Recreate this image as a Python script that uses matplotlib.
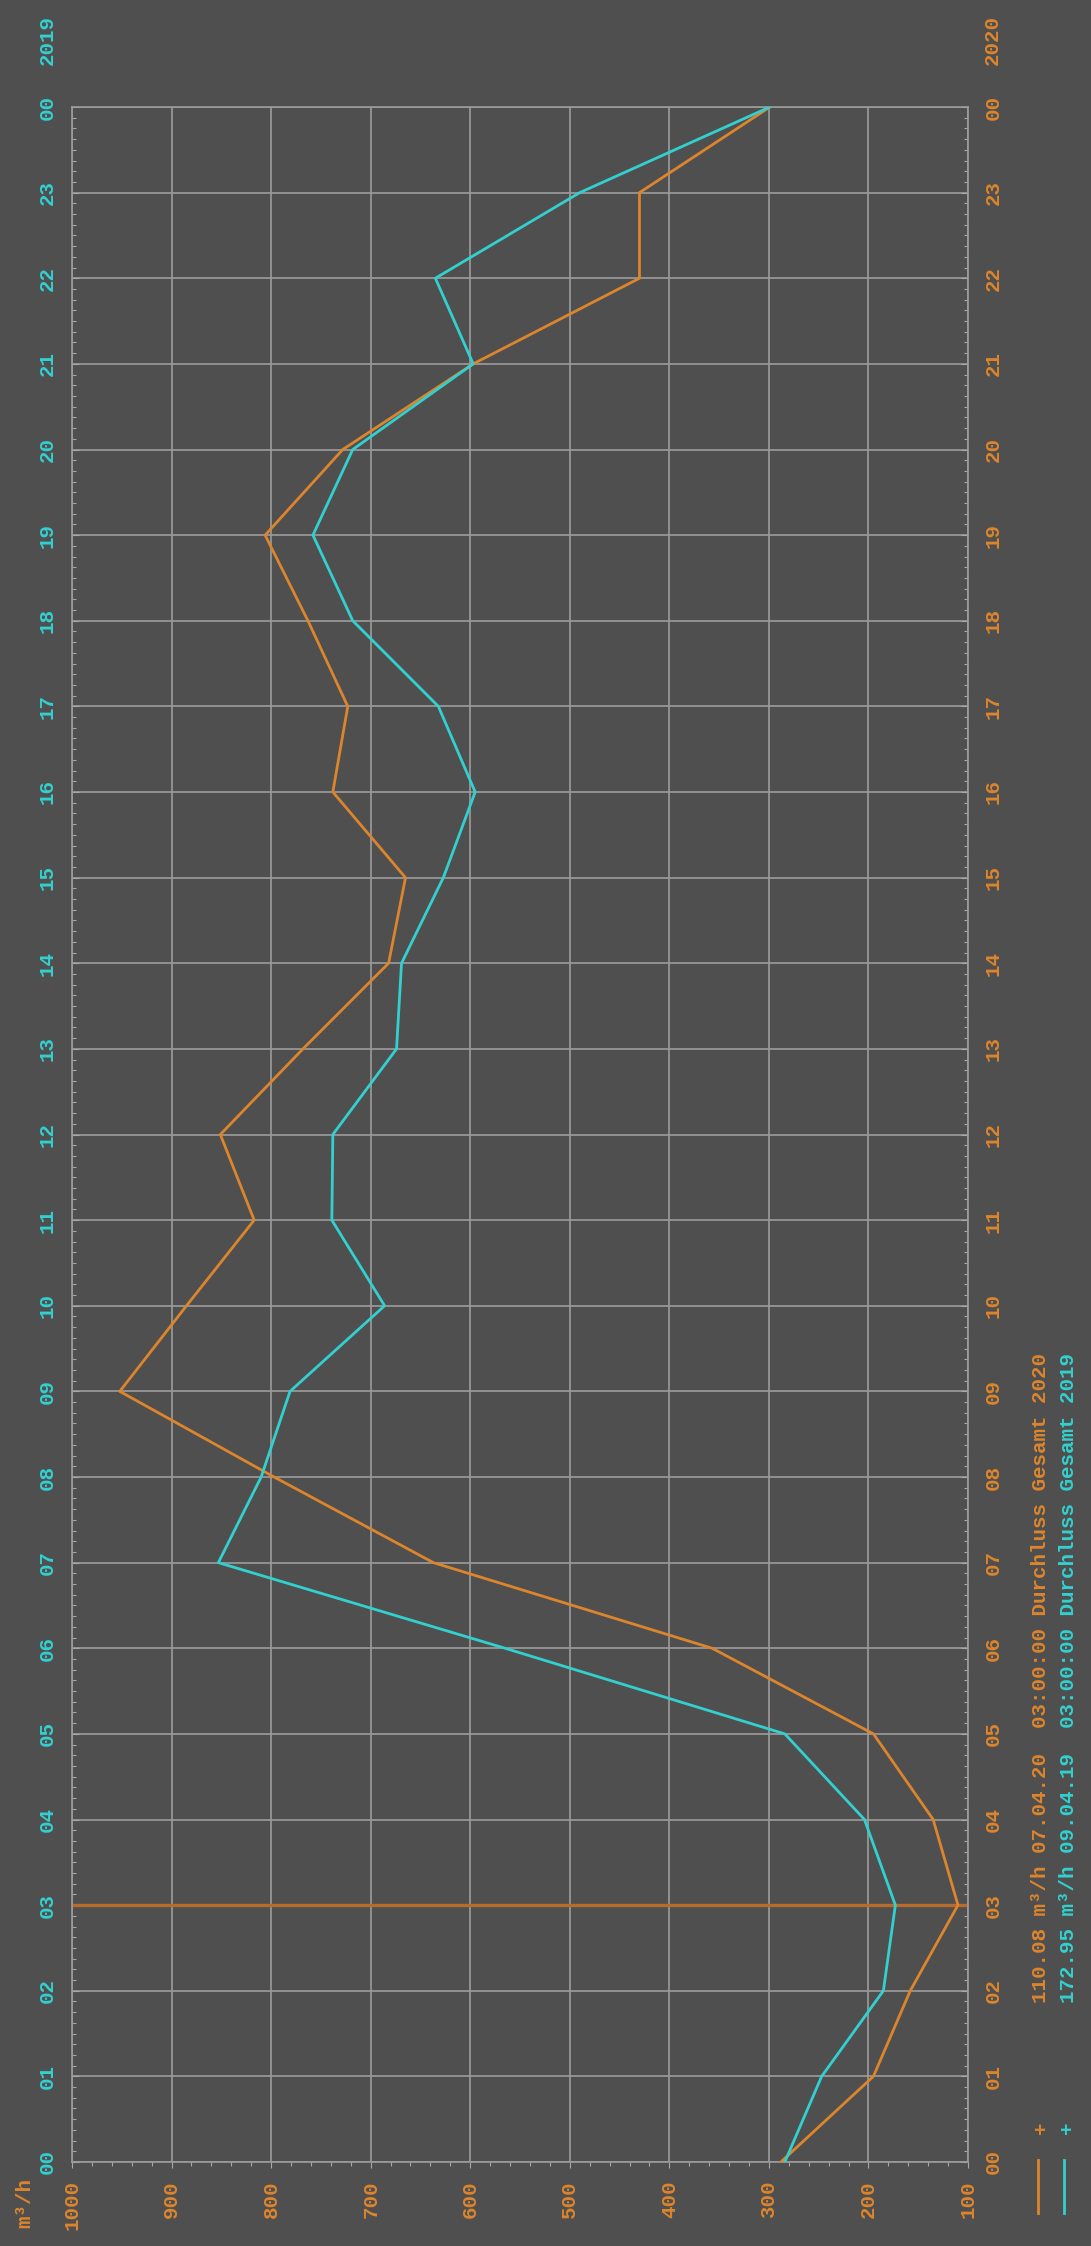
import matplotlib
matplotlib.use("Agg")
import matplotlib.pyplot as plt
from matplotlib.ticker import MultipleLocator, FixedLocator
from matplotlib.lines import Line2D

# data (hour of day -> flow in m3/h)
hours = list(range(25))
hour_labels = ["%02d" % (h % 24) for h in hours]
flow_2019 = [284, 247, 185, 172.95, 204, 284, 565, 853, 810, 781, 686, 739, 738,
             674, 669, 627, 595, 632, 718, 758, 718, 597, 635, 490, 299]
flow_2020 = [288, 195, 158, 110.08, 135, 195, 357, 637, 797, 952, 885, 817, 851,
             768, 682, 665, 738, 723, 763, 806, 728, 597, 430, 430, 299]
flow_ticks = list(range(1000, 0, -100))
cursor_hour = 3
legend_2020 = "110.08 m³/h 07.04.20  03:00:00 Durchluss Gesamt 2020"
legend_2019 = "172.95 m³/h 09.04.19  03:00:00 Durchluss Gesamt 2019"

bg = "#4f4f4f"
orange = "#dc852d"
cyan = "#33d0d0"
gridc = "#9c9c9c"

plt.rcParams["font.family"] = ["Liberation Mono", "DejaVu Sans Mono"]
plt.rcParams["font.weight"] = "bold"
plt.rcParams["font.size"] = 15

W, H = 1091, 2246
fig = plt.figure(figsize=(W / 100, H / 100), dpi=100, facecolor=bg)
ax = fig.add_axes([72 / W, 1 - 2162 / H, 896 / W, 2055 / H], facecolor=bg)

ax.plot(flow_2020, hours, color=orange, lw=2.0, zorder=3)
ax.plot(flow_2019, hours, color=cyan, lw=2.0, zorder=4)
ax.axhline(cursor_hour, color="#b86c2c", lw=2.4, zorder=2)

ax.set_xlim(1000, 100)
ax.set_ylim(0, 24)
ax.xaxis.set_major_locator(FixedLocator(flow_ticks))
ax.set_xticklabels([str(v) for v in flow_ticks], rotation=90, color=orange)
ax.xaxis.set_minor_locator(MultipleLocator(20))
ax.yaxis.set_major_locator(FixedLocator(hours))
ax.set_yticklabels(hour_labels)
ax.yaxis.set_minor_locator(MultipleLocator(0.125))

ax.tick_params(axis="y", which="both", left=True, right=True, labelleft=True,
               labelright=True, direction="in", color="#a8a8a8", labelrotation=90)
ax.tick_params(axis="y", which="major", length=5, pad=11)
ax.tick_params(axis="y", which="minor", length=3, width=0.8)
ax.tick_params(axis="x", which="both", direction="out", color="#a8a8a8", pad=9)
ax.tick_params(axis="x", which="major", length=4)
ax.tick_params(axis="x", which="minor", length=3, width=0.8)
for t in ax.yaxis.get_major_ticks():
    t.label1.set_color(cyan)
    t.label2.set_color(orange)
    t.label1.set_va("center")
    t.label2.set_va("center")

ax.grid(True, which="major", color=gridc, lw=1.2, zorder=1)
for s in ax.spines.values():
    s.set_color(gridc)
    s.set_linewidth(1.2)

# year labels and unit
fig.text(47 / W, 1 - 40 / H, "2019", rotation=90, ha="center", va="center", color=cyan)
fig.text(992 / W, 1 - 40 / H, "2020", rotation=90, ha="center", va="center", color=orange)
fig.text(25 / W, 1 - 2203 / H, "m³/h", rotation=90, ha="center", va="center", color=orange)

# legend
fig.text(1041 / W, 1 - 2003 / H, legend_2020, rotation=90, ha="center", va="bottom", color=orange)
fig.text(1068 / W, 1 - 2003 / H, legend_2019, rotation=90, ha="center", va="bottom", color=cyan)
fig.text(1041 / W, 1 - 2128 / H, "+", rotation=90, ha="center", va="center", color=orange)
fig.text(1068 / W, 1 - 2128 / H, "+", rotation=90, ha="center", va="center", color=cyan)
fig.add_artist(Line2D([1038 / W] * 2, [1 - 2213 / H, 1 - 2160 / H], color=orange, lw=2.0))
fig.add_artist(Line2D([1064 / W] * 2, [1 - 2213 / H, 1 - 2160 / H], color=cyan, lw=2.0))

fig.savefig("out.png", dpi=100, facecolor=bg)
